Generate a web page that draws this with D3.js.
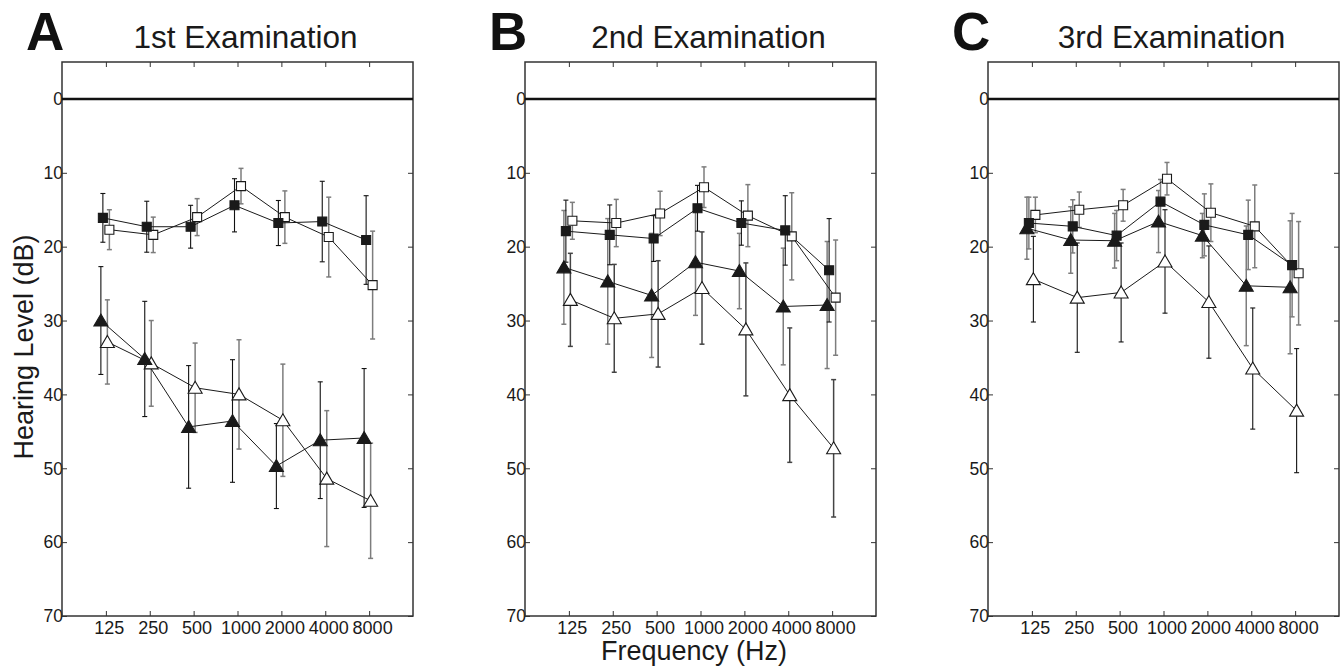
<!DOCTYPE html>
<html><head><meta charset="utf-8">
<script src="https://cdn.jsdelivr.net/npm/d3@7"></script>
<style>body{margin:0;background:#fff}svg{display:block;font-family:"Liberation Sans",Arial,Helvetica,sans-serif}</style>
</head><body><svg id="c" width="1343" height="669"></svg>
<script>
// ---------- data ----------
const freqs = [125, 250, 500, 1000, 2000, 4000, 8000];
const yTicks = [0, 10, 20, 30, 40, 50, 60, 70];
const panelLetters = ["A", "B", "C"];
const panelTitles = ["1st Examination", "2nd Examination", "3rd Examination"];
const seriesNames = ["filledSquare", "openSquare", "filledTriangle", "openTriangle"];

// Panel A (1st examination): means and SD (dB HL)
const A_filledSquare = [16.1, 17.3, 17.3, 14.4, 16.8, 16.6, 19.1];
const A_filledSquareSD = [3.3, 3.45, 2.9, 3.6, 3.05, 5.45, 6.0];
const A_openSquare = [17.7, 18.4, 16.0, 11.8, 16.0, 18.7, 25.2];
const A_openSquareSD = [2.7, 2.4, 2.5, 2.4, 3.55, 5.4, 7.3];
const A_filledTriangle = [30.0, 35.2, 44.4, 43.6, 49.7, 46.2, 45.9];
const A_filledTriangleSD = [7.3, 7.8, 8.3, 8.3, 5.75, 7.9, 9.4];
const A_openTriangle = [32.9, 35.8, 39.1, 40.0, 43.5, 51.4, 54.4];
const A_openTriangleSD = [5.7, 5.8, 6.05, 7.4, 7.6, 9.2, 7.8];

// Panel B (2nd examination)
const B_filledSquare = [17.9, 18.4, 18.9, 14.8, 16.8, 17.8, 23.2];
const B_filledSquareSD = [4.2, 4.05, 3.1, 3.1, 3.0, 4.7, 7.0];
const B_openSquare = [16.5, 16.8, 15.5, 11.95, 15.8, 18.6, 26.9];
const B_openSquareSD = [2.5, 3.2, 3.0, 2.75, 4.2, 5.9, 7.8];
const B_filledTriangle = [22.8, 24.7, 26.6, 22.1, 23.3, 28.1, 27.9];
const B_filledTriangleSD = [7.7, 8.5, 8.4, 7.2, 5.1, 7.9, 8.6];
const B_openTriangle = [27.2, 29.7, 29.1, 25.6, 31.2, 40.1, 47.3];
const B_openTriangleSD = [6.3, 7.3, 7.2, 7.6, 9.0, 9.1, 9.3];

// Panel C (3rd examination)
const C_filledSquare = [16.8, 17.25, 18.5, 13.9, 17.05, 18.4, 22.5];
const C_filledSquareSD = [3.5, 3.6, 3.4, 3.0, 4.2, 4.7, 7.0];
const C_openSquare = [15.7, 15.0, 14.4, 10.8, 15.4, 17.25, 23.6];
const C_openSquareSD = [2.4, 2.4, 2.15, 2.2, 3.9, 5.6, 7.0];
const C_filledTriangle = [17.5, 19.1, 19.2, 16.6, 18.5, 25.3, 25.5];
const C_filledTriangleSD = [4.2, 4.5, 3.7, 4.2, 3.0, 8.1, 9.0];
const C_openTriangle = [24.4, 26.9, 26.2, 22.0, 27.5, 36.5, 42.2];
const C_openTriangleSD = [5.8, 7.4, 6.7, 7.0, 7.6, 8.2, 8.4];

// ---------- assembly ----------
const panels = [
  {mean: {filledSquare: A_filledSquare, openSquare: A_openSquare, filledTriangle: A_filledTriangle, openTriangle: A_openTriangle},
   sd: {filledSquare: A_filledSquareSD, openSquare: A_openSquareSD, filledTriangle: A_filledTriangleSD, openTriangle: A_openTriangleSD},
   barColor: {filledSquare: "#111", openSquare: "#7d7d7d", filledTriangle: "#111", openTriangle: "#7d7d7d"}},
  {mean: {filledSquare: B_filledSquare, openSquare: B_openSquare, filledTriangle: B_filledTriangle, openTriangle: B_openTriangle},
   sd: {filledSquare: B_filledSquareSD, openSquare: B_openSquareSD, filledTriangle: B_filledTriangleSD, openTriangle: B_openTriangleSD},
   barColor: {filledSquare: "#111", openSquare: "#7d7d7d", filledTriangle: "#7d7d7d", openTriangle: "#444"}},
  {mean: {filledSquare: C_filledSquare, openSquare: C_openSquare, filledTriangle: C_filledTriangle, openTriangle: C_openTriangle},
   sd: {filledSquare: C_filledSquareSD, openSquare: C_openSquareSD, filledTriangle: C_filledTriangleSD, openTriangle: C_openTriangleSD},
   barColor: {filledSquare: "#7d7d7d", openSquare: "#7d7d7d", filledTriangle: "#7d7d7d", openTriangle: "#111"}}
];

const style = {
  filledSquare: {shape: "square", fill: "#1a1a1a", dx: -3},
  openSquare: {shape: "square", fill: "#fff", dx: 3.5},
  filledTriangle: {shape: "triangle", fill: "#1a1a1a", dx: -5},
  openTriangle: {shape: "triangle", fill: "#fff", dx: 1.5}
};

const svg = d3.select("#c");
const boxLefts = [62, 525, 988];
const boxW = 351, plotTop = 62, plotBottom = 616;

const yScale = d3.scaleLinear().domain([-5, 70]).range([plotTop, plotBottom]);

panels.forEach((p, i) => {
  const L = boxLefts[i], R = L + boxW;
  const x = d3.scaleLog().base(2).domain([62.5, 16000]).range([L, R]);
  const y = yScale;
  const g = svg.append("g");

  // letter & title
  g.append("text").attr("x", L - 36).attr("y", 50).attr("font-size", 53).attr("font-weight", "bold")
    .attr("fill", "#111").text(panelLetters[i]);
  g.append("text").attr("x", (L + R) / 2 + 8).attr("y", 48).attr("text-anchor", "middle")
    .attr("font-size", 31.5).attr("fill", "#1a1a1a")
    .text(panelTitles[i]);

  // axes via d3 axis generators (inner ticks)
  const xBottom = d3.axisBottom(x).tickValues(freqs).tickSize(-5).tickFormat("");
  const xTop = d3.axisTop(x).tickValues(freqs).tickSize(-5).tickFormat("");
  const yLeft = d3.axisLeft(y).tickValues(yTicks).tickSize(-5).tickFormat("");
  const yRight = d3.axisRight(y).tickValues(yTicks).tickSize(-5).tickFormat("");
  [[xBottom, `translate(0,${plotBottom})`], [xTop, `translate(0,${plotTop})`],
   [yLeft, `translate(${L},0)`], [yRight, `translate(${R},0)`]].forEach(([ax, tr]) => {
    const a = g.append("g").attr("transform", tr).call(ax);
    a.select(".domain").remove();
    a.selectAll("line").attr("stroke", "#333").attr("stroke-width", 1);
  });

  // tick labels
  g.selectAll(".xl").data(freqs).join("text").attr("x", d => x(d) + 3.5).attr("y", 634)
    .attr("text-anchor", "middle").attr("font-size", 18).attr("fill", "#1a1a1a").text(d => d);
  g.selectAll(".yl").data(yTicks).join("text").attr("x", L + 1).attr("y", d => y(d))
    .attr("dy", "0.36em").attr("text-anchor", "end").attr("font-size", 17.5).attr("fill", "#1a1a1a").text(d => d);

  // box
  g.append("rect").attr("x", L).attr("y", plotTop).attr("width", boxW).attr("height", plotBottom - plotTop)
    .attr("fill", "none").attr("stroke", "#333").attr("stroke-width", 1.5);
  // 0 dB reference line
  g.append("line").attr("x1", L).attr("x2", R).attr("y1", y(0)).attr("y2", y(0))
    .attr("stroke", "#111").attr("stroke-width", 2.6);

  const drawOrder = ["openTriangle", "filledTriangle", "openSquare", "filledSquare"];
  // error bars
  drawOrder.forEach(s => {
    const st = style[s], col = p.barColor[s];
    const pts = freqs.map((f, k) => ({f, m: p.mean[s][k], sd: p.sd[s][k]}));
    const eb = g.append("g").attr("stroke", col).attr("stroke-width", col === "#111" ? 1.1 : 1.5);
    pts.forEach(d => {
      const cx = x(d.f) + st.dx;
      eb.append("line").attr("x1", cx).attr("x2", cx).attr("y1", y(d.m - d.sd)).attr("y2", y(d.m + d.sd));
      [d.m - d.sd, d.m + d.sd].forEach(v => eb.append("line").attr("x1", cx - 2.5).attr("x2", cx + 2.5)
        .attr("y1", y(v)).attr("y2", y(v)));
    });
  });
  // lines and markers
  drawOrder.forEach(s => {
    const st = style[s];
    const pts = freqs.map((f, k) => ({f, m: p.mean[s][k]}));
    g.append("path").datum(pts)
      .attr("d", d3.line().x(d => x(d.f) + st.dx).y(d => y(d.m)))
      .attr("fill", "none").attr("stroke", "#1a1a1a").attr("stroke-width", 1);
  });
  drawOrder.forEach(s => {
    const st = style[s];
    const pts = freqs.map((f, k) => ({f, m: p.mean[s][k]}));
    const mk = g.selectAll(null).data(pts).join("path")
      .attr("transform", d => `translate(${x(d.f) + st.dx},${y(d.m)})`)
      .attr("fill", st.fill).attr("stroke", "#1a1a1a").attr("stroke-width", 1.1);
    if (st.shape === "square") mk.attr("d", "M-4.5,-4.5H4.5V4.5H-4.5Z");
    else mk.attr("d", "M0,-6.5L7,5.5L-7,5.5Z");
  });
});

// axis titles
svg.append("text").attr("transform", "translate(33,347) rotate(-90)").attr("text-anchor", "middle")
  .attr("font-size", 27).attr("fill", "#1a1a1a").text("Hearing Level (dB)");
svg.append("text").attr("x", 694).attr("y", 660).attr("text-anchor", "middle")
  .attr("font-size", 27).attr("fill", "#1a1a1a").text("Frequency (Hz)");
</script></body></html>
